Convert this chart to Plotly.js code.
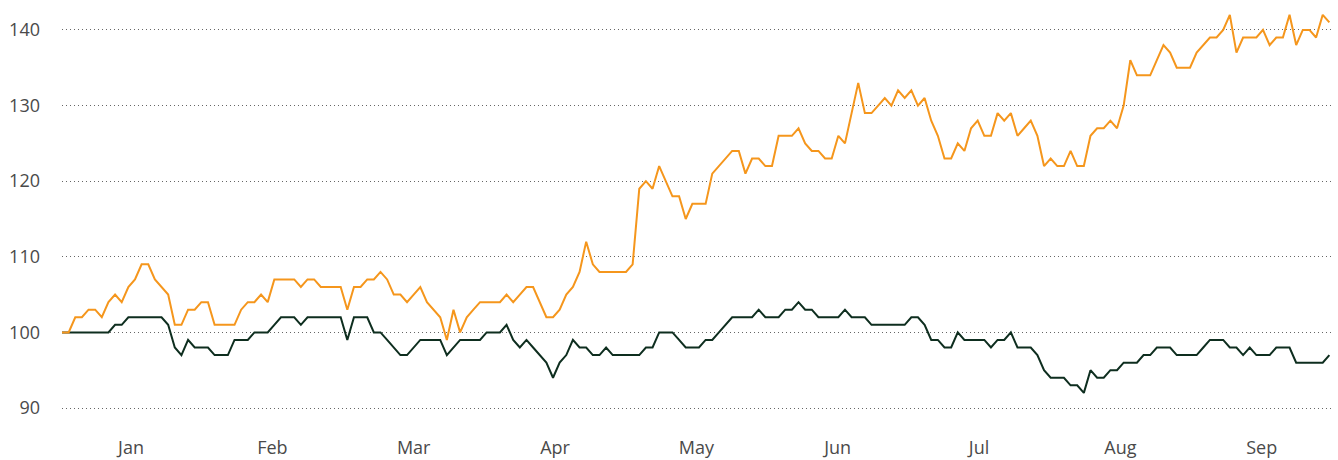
<!DOCTYPE html>
<html>
<head>
<meta charset="utf-8">
<script src="https://cdn.plot.ly/plotly-3.0.1.min.js"></script>
<style>
html,body{margin:0;padding:0;background:#fff;}
#chart{width:1338px;height:460px;}
</style>
</head>
<body>
<div id="chart"></div>
<script>
// Month tick labels
const monthLabels = ["Jan","Feb","Mar","Apr","May","Jun","Jul","Aug","Sep"];

// Orange series (daily index values)
const orangeSeries = [
100,100,102,102,103,103,102,104,105,104,106,107,109,109,107,106,105,101,101,103,
103,104,104,101,101,101,101,103,104,104,105,104,107,107,107,107,106,107,107,106,
106,106,106,103,106,106,107,107,108,107,105,105,104,105,106,104,103,102,99,103,
100,102,103,104,104,104,104,105,104,105,106,106,104,102,102,103,105,106,108,112,
109,108,108,108,108,108,109,119,120,119,122,120,118,118,115,117,117,117,121,122,
123,124,124,121,123,123,122,122,126,126,126,127,125,124,124,123,123,126,125,129,
133,129,129,130,131,130,132,131,132,130,131,128,126,123,123,125,124,127,128,126,
126,129,128,129,126,127,128,126,122,123,122,122,124,122,122,126,127,127,128,127,
130,136,134,134,134,136,138,137,135,135,135,137,138,139,139,140,142,137,139,139,
139,140,138,139,139,142,138,140,140,139,142,141
];

// Dark green series (daily index values)
const greenSeries = [
100,100,100,100,100,100,100,100,101,101,102,102,102,102,102,102,101,98,97,99,
98,98,98,97,97,97,99,99,99,100,100,100,101,102,102,102,101,102,102,102,
102,102,102,99,102,102,102,100,100,99,98,97,97,98,99,99,99,99,97,98,
99,99,99,99,100,100,100,101,99,98,99,98,97,96,94,96,97,99,98,98,
97,97,98,97,97,97,97,97,98,98,100,100,100,99,98,98,98,99,99,100,
101,102,102,102,102,103,102,102,102,103,103,104,103,103,102,102,102,102,103,102,
102,102,101,101,101,101,101,101,102,102,101,99,99,98,98,100,99,99,99,99,
98,99,99,100,98,98,98,97,95,94,94,94,93,93,92,95,94,94,95,95,
96,96,96,97,97,98,98,98,97,97,97,97,98,99,99,99,98,98,97,98,
97,97,97,98,98,98,96,96,96,96,96,97
];

const xIdx = orangeSeries.map((_, i) => i);
const tickPos = monthLabels.map((_, k) => 10.4 + k * 21.3);

const traces = [
  {x: xIdx, y: greenSeries, type: "scatter", mode: "lines",
   line: {color: "#0e2e1f", width: 2}, hoverinfo: "skip"},
  {x: xIdx, y: orangeSeries, type: "scatter", mode: "lines",
   line: {color: "#f5961c", width: 2}, hoverinfo: "skip"}
];

const layout = {
  width: 1338, height: 460,
  margin: {l: 62, r: 4, t: 5, b: 37},
  paper_bgcolor: "#fff", plot_bgcolor: "#fff",
  showlegend: false,
  font: {family: "Open Sans, Noto Sans, sans-serif", size: 18, color: "#4a4a4a"},
  xaxis: {
    range: [0, 191.7],
    tickvals: tickPos, ticktext: monthLabels,
    showgrid: false, zeroline: false, showline: false,
    ticks: "", ticklabelstandoff: 12,
    tickfont: {size: 18, color: "#4a4a4a"}
  },
  yaxis: {
    range: [88.016, 143.3],
    tickvals: [90,100,110,120,130,140],
    showgrid: true, gridcolor: "#666", griddash: "1px,3px", gridwidth: 1,
    zeroline: false, showline: false, ticks: "",
    ticklabelstandoff: 21,
    tickfont: {size: 18, color: "#4a4a4a"}
  }
};

Plotly.newPlot("chart", traces, layout, {staticPlot: true, displayModeBar: false});
</script>
</body>
</html>
